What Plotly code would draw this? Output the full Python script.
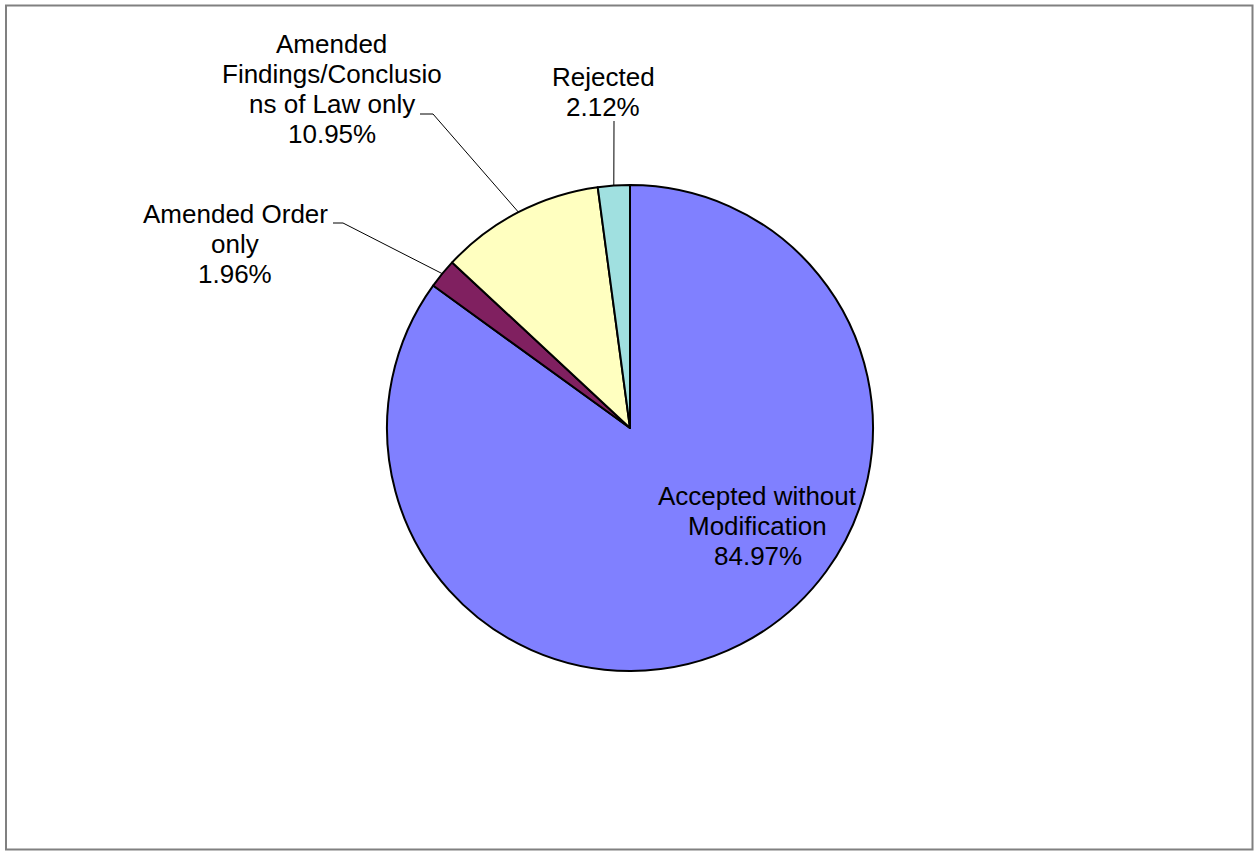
import math
import plotly.graph_objects as go

# ---- data ----
categories = ["Accepted without Modification", "Amended Order only",
              "Amended Findings/Conclusions of Law only", "Rejected"]
values = [84.97, 1.96, 10.95, 2.12]
label_lines = [["Accepted without", "Modification"], ["Amended Order", "only"],
               ["Amended", "Findings/Conclusio", "ns of Law only"], ["Rejected"]]
colors = ["#8080FF", "#802060", "#FFFFC0", "#A0E0E0"]

# ---- layout (pixels) ----
W, H = 1254, 851
CX, CY, R = 630, 428, 243
FONT = "Liberation Sans, Arial, sans-serif"
FS = 26
LS = 30  # line spacing

# label block: center x, y of first line (layout positions)
label_pos = [(757.5, 496), (235, 214), (331.5, 44), (603, 77)]
leader = [None, [(343, 223), (333, 223)], [(433, 114), (420, 114)], [(614, 121)]]

fig = go.Figure()
fig.add_trace(go.Pie(
    labels=categories, values=values, sort=False, direction="clockwise",
    rotation=0, marker=dict(colors=colors, line=dict(color="black", width=2)),
    textinfo="none", hoverinfo="label+percent", showlegend=False,
    domain=dict(x=[(CX - R) / W, (CX + R) / W], y=[1 - (CY + R) / H, 1 - (CY - R) / H]),
))

total = sum(values)
cum = 0.0
shapes = []
annotations = []
for i, v in enumerate(values):
    mid = (cum + v / 2) / total * 2 * math.pi
    cum += v
    pct = v / total * 100
    lx, ly = label_pos[i]
    lines = label_lines[i] + [f"{pct:.2f}%"]
    for k, t in enumerate(lines):
        annotations.append(dict(
            x=lx, y=ly + k * LS, xref="x", yref="y", text=t,
            showarrow=False, xanchor="center", yanchor="middle", align="center",
            font=dict(family=FONT, size=FS, color="black")))
    if leader[i]:
        pts = [(CX + R * math.sin(mid), CY - R * math.cos(mid))] + leader[i]
        path = "M " + " L ".join(f"{x:.1f},{y:.1f}" for x, y in pts)
        shapes.append(dict(type="path", path=path, xref="x", yref="y",
                           line=dict(color="black", width=1)))

# outer border
shapes.append(dict(type="rect", xref="x", yref="y", x0=6, y0=5.5, x1=1252.5, y1=849.5,
                   line=dict(color="#808080", width=2)))

fig.update_layout(
    width=W, height=H, margin=dict(l=0, r=0, t=0, b=0),
    paper_bgcolor="white", plot_bgcolor="rgba(0,0,0,0)",
    xaxis=dict(range=[0, W], visible=False, fixedrange=True),
    yaxis=dict(range=[H, 0], visible=False, fixedrange=True),
    shapes=shapes, annotations=annotations, showlegend=False,
)
fig.write_html("out.html", config={"displayModeBar": False},
               post_script="document.body.style.margin='0';document.body.style.overflow='hidden';")
